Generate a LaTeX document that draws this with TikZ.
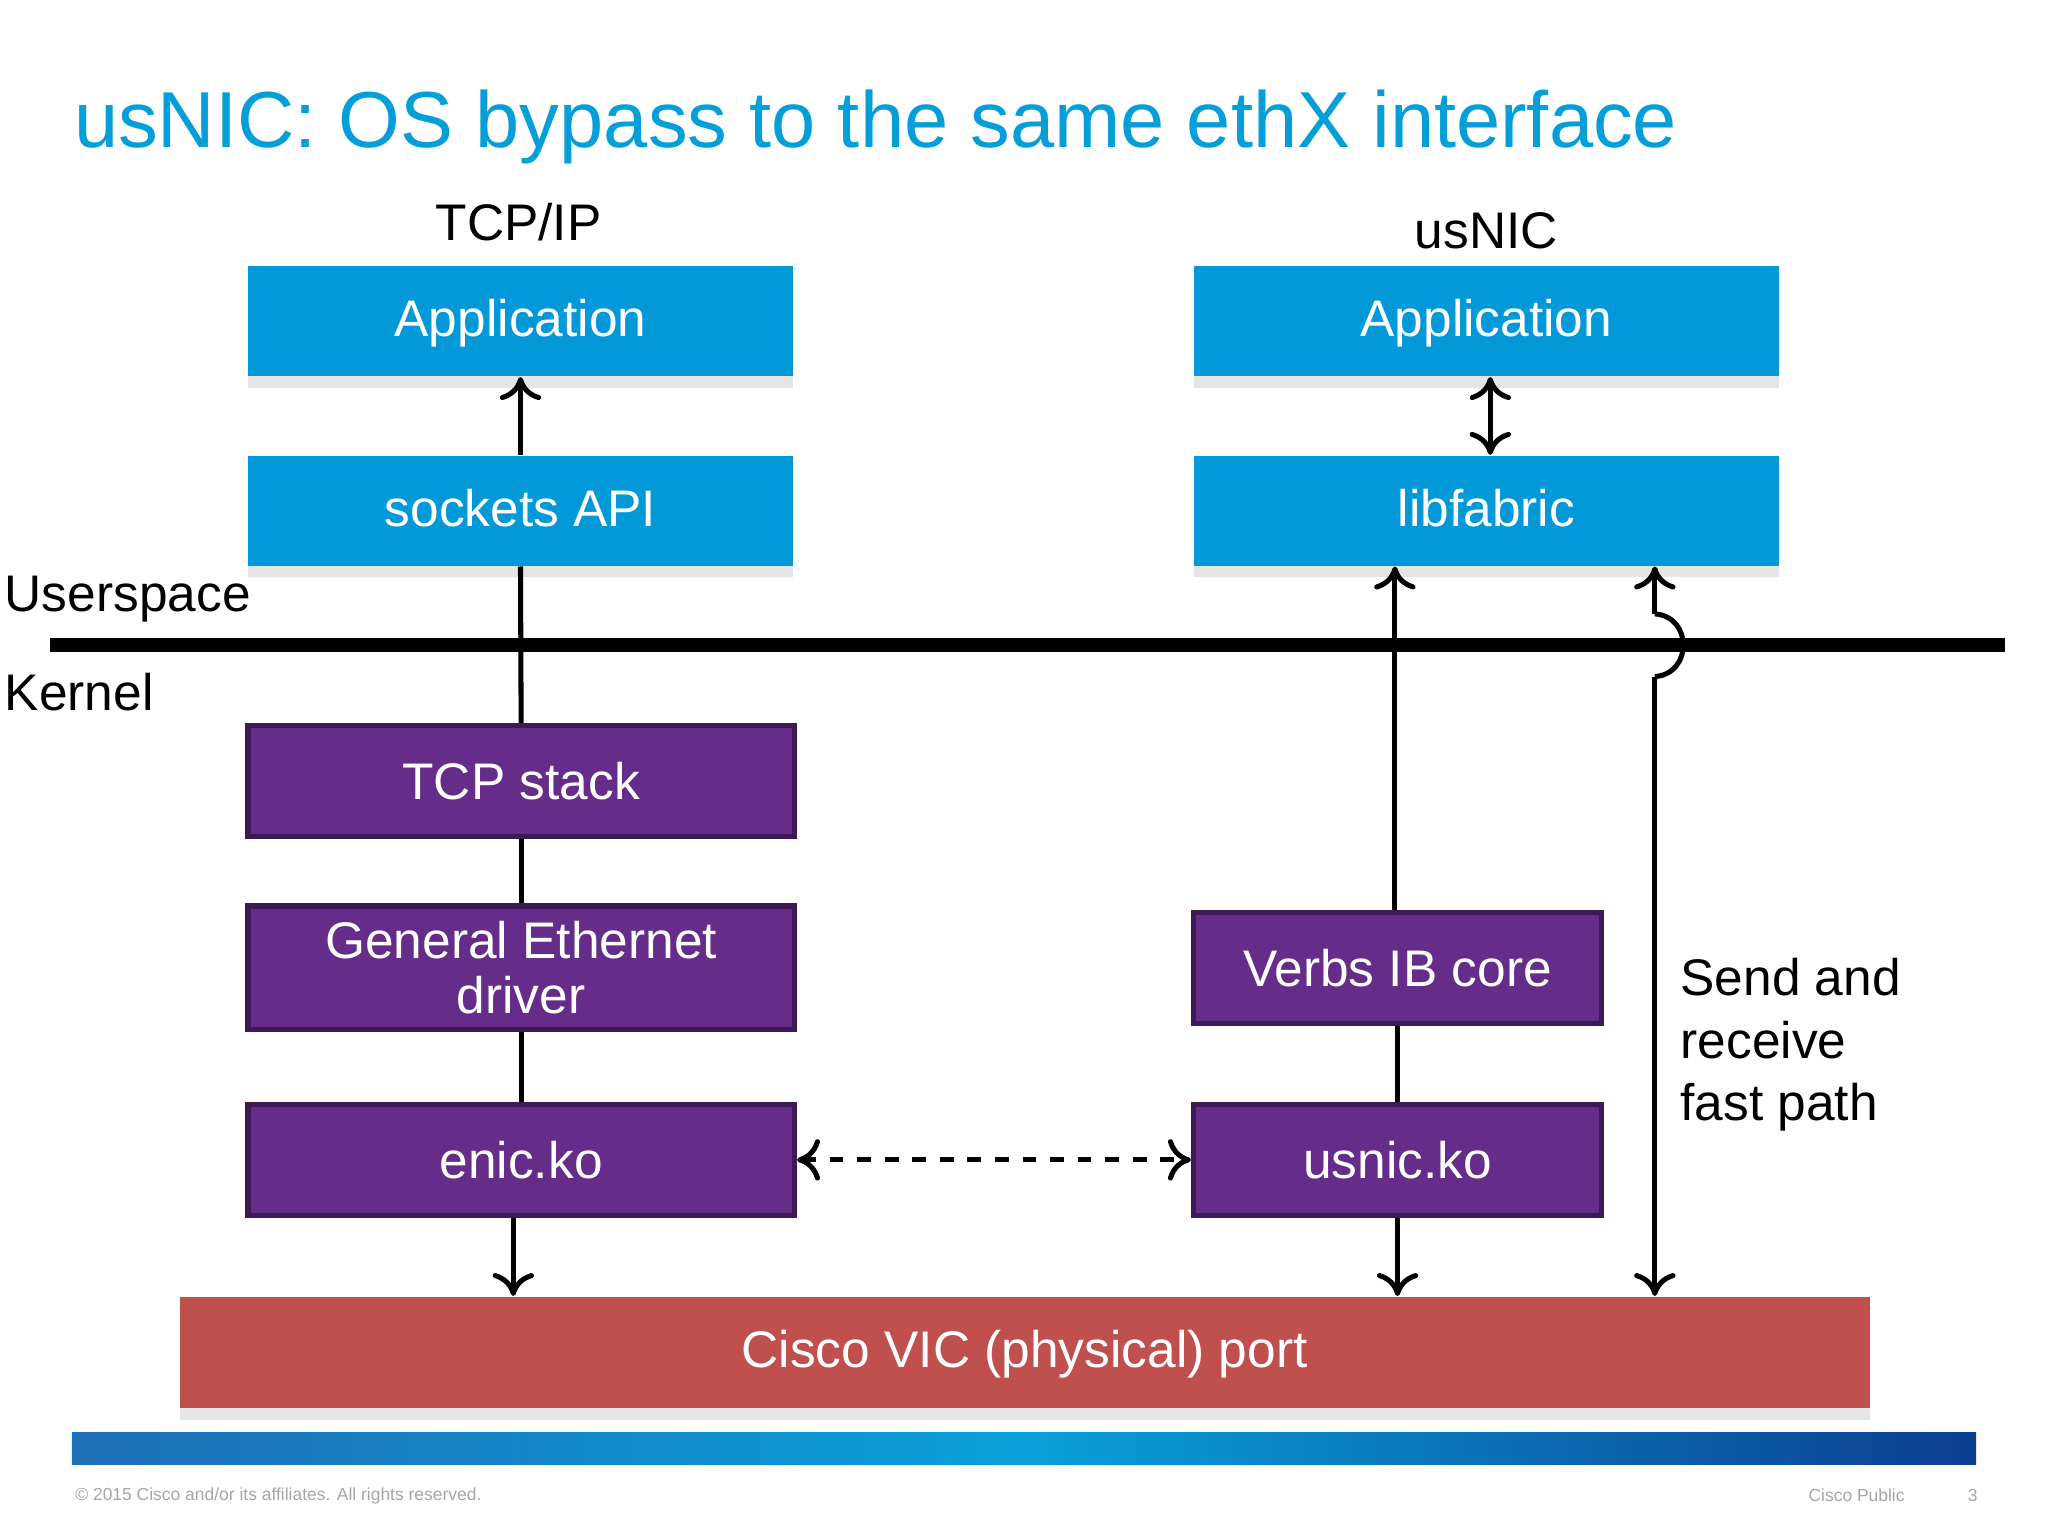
\documentclass[tikz,border=0pt]{standalone}
\usepackage{fontspec}
\setmainfont{Liberation Sans}
\usetikzlibrary{arrows.meta,shadows}
\definecolor{tblue}{HTML}{049FD9}
\definecolor{bbox}{HTML}{0399D8}
\definecolor{pbox}{HTML}{652D89}
\definecolor{pbord}{HTML}{3D1A55}
\definecolor{rbox}{HTML}{C0504D}
\definecolor{fl}{HTML}{1E6FB5}
\definecolor{fm}{HTML}{0AA0DC}
\definecolor{fr}{HTML}{0B3F8F}
\begin{document}
\begin{tikzpicture}[x=0.01cm,y=-0.01cm,
  blue/.style={fill=bbox,draw=none,text=white,font=\fontsize{11.2}{13}\selectfont,text height=0.72em,text depth=0.05em,drop shadow={opacity=0.2,shadow xshift=0pt,shadow yshift=-2.5pt}},
  purp/.style={fill=pbox,draw=pbord,line width=1.2pt,text=white,font=\fontsize{11.2}{13}\selectfont,align=center},
  ln/.style={line width=1.1pt},
  ar/.style={ln,-{To[length=5pt,width=9pt]}},
  dar/.style={ln,{To[length=5pt,width=9pt]}-{To[length=5pt,width=9pt]}}]
\useasboundingbox (0,0) rectangle (1568,1176);
\fill[white] (0,0) rectangle (1568,1176);
\node[anchor=west,inner sep=0pt,text=tblue,font=\fontsize{17.3}{20}\selectfont] (title) at (56,97) {usNIC: OS bypass to the same ethX interface};
\node[font=\fontsize{11.2}{13}\selectfont] (tcpip) at (397,170) {TCP/IP};
\node[font=\fontsize{11.2}{13}\selectfont] (usnic) at (1138,177) {usNIC};
% blue boxes
\node[blue,minimum height=0.84cm,minimum width=4.17cm] (app1) at (398.5,246) {Application};
\node[blue,minimum height=0.84cm,minimum width=4.17cm] (sock) at (398.5,391) {sockets API};
\node[blue,minimum height=0.84cm,minimum width=4.48cm] (app2) at (1138,246) {Application};
\node[blue,minimum height=0.84cm,minimum width=4.48cm] (lib) at (1138,391) {libfabric};
% labels
\node[anchor=west,inner sep=0pt,font=\fontsize{11.2}{13}\selectfont] (us) at (3,459) {Userspace};
\node[anchor=west,inner sep=0pt,font=\fontsize{11.2}{13}\selectfont] (kn) at (3,530) {Kernel};
\coordinate (hl) at (38,494);
\coordinate (hr) at (1535,494);
% purple boxes
\node[purp,minimum width=4.18cm,minimum height=0.85cm] (tcp) at (399,598) {TCP stack};
\node[purp,minimum width=4.18cm,minimum height=0.85cm] (ged) at (399,741) {General Ethernet\\[-1pt]driver};
\node[purp,minimum width=4.18cm,minimum height=0.85cm] (enic) at (399,888) {enic.ko};
\node[purp,minimum width=3.12cm,minimum height=0.85cm] (verbs) at (1070,741) {Verbs IB core};
\node[purp,minimum width=3.12cm,minimum height=0.85cm] (usko) at (1070,888) {usnic.ko};
\node[fill=rbox,text=white,minimum width=12.93cm,minimum height=0.85cm,text height=0.72em,text depth=0.05em,font=\fontsize{11.2}{13}\selectfont,drop shadow={opacity=0.2,shadow xshift=0pt,shadow yshift=-2.5pt}] (vic) at (784.5,1035.5) {Cisco VIC (physical) port};
% connectors
\draw[ar] (sock.north) -- (app1.south);
\draw[ln] (sock.south) -- (tcp.north);
\draw[ln] (tcp.south) -- (ged.north);
\draw[ln] (ged.south) -- (enic.north);
\draw[ar] (enic.south -| 393,0) -- (vic.north -| 393,0);
\draw[dar] (app2.south -| 1141,0) -- (lib.north -| 1141,0);
\draw[ar] (verbs.north -| 1068,0) -- (lib.south -| 1068,0);
\draw[ln] (verbs.south) -- (usko.north);
\draw[ar] (usko.south) -- (vic.north -| usko.south);
% thick line
\draw[line width=3pt] (hl) -- (hr);
% fast path with hop
\coordinate (fp1) at (1267,470);
\coordinate (fp2) at (1267,518);
\draw[ar] (fp1) -- (lib.south -| fp1);
\draw[ar] (fp2) -- (vic.north -| fp2);
\draw[ln] (fp1) .. controls (1296,472) and (1296,516) .. (fp2);
\node[anchor=north west,inner sep=0pt,align=left,font=\fontsize{11.2}{13.6}\selectfont] (fast) at (1286,733) {Send and\\receive\\fast path};
% enic <-> usnic dashed
\draw[dar,dashed] (enic.east) -- (usko.west);
% footer
\shade[left color=fl,right color=fr,middle color=fm] (55,1097) rectangle (1513,1121);
\node[anchor=west,inner sep=0pt,text=gray!70,font=\fontsize{3.8}{5}\selectfont] (copy) at (57,1145) {© 2015 Cisco and/or its affiliates. All rights reserved.};
\node[anchor=west,inner sep=0pt,text=gray!70,font=\fontsize{3.8}{5}\selectfont] (pub) at (1384,1145) {Cisco Public};
\node[anchor=west,inner sep=0pt,text=gray!70,font=\fontsize{3.8}{5}\selectfont] (pg) at (1506,1145) {3};
\end{tikzpicture}
\end{document}
